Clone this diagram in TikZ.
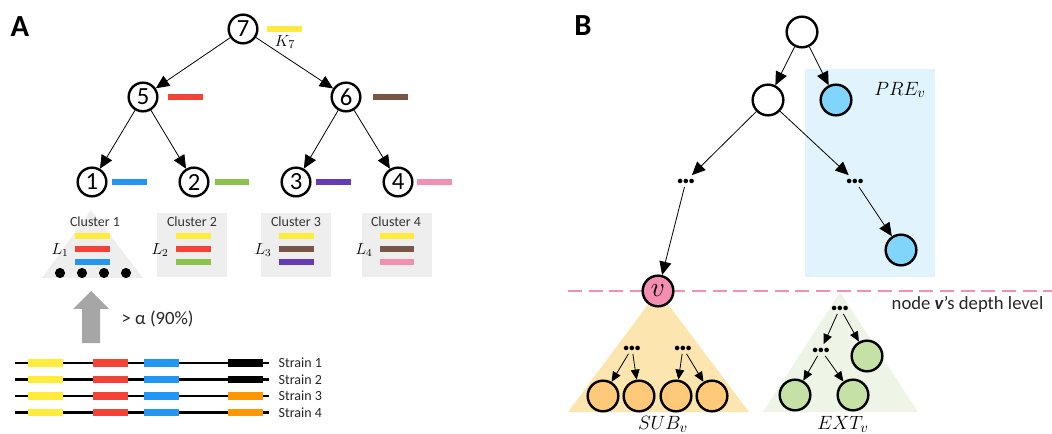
\documentclass[tikz,border=0pt]{standalone}
\usepackage{fontspec}
\setmainfont{Carlito}
\usetikzlibrary{arrows.meta}
\definecolor{cyel}{HTML}{FFEB3B}
\definecolor{cred}{HTML}{F44336}
\definecolor{cbrown}{HTML}{795548}
\definecolor{cblue}{HTML}{2196F3}
\definecolor{cgreen}{HTML}{8BC34A}
\definecolor{cpurple}{HTML}{673AB7}
\definecolor{cpink}{HTML}{F48FB1}
\definecolor{corange}{HTML}{FF9800}
\definecolor{cbox}{HTML}{EEEEEE}
\definecolor{carrow}{HTML}{A6A6A6}
\definecolor{cprebg}{HTML}{E1F4FD}
\definecolor{cprenode}{HTML}{81D4FA}
\definecolor{csubbg}{HTML}{FDE5B0}
\definecolor{csubnode}{HTML}{FFC97A}
\definecolor{cextbg}{HTML}{EFF5E6}
\definecolor{cextnode}{HTML}{C5E1A5}
\newcommand{\mydots}{.\kern-1.8pt.\kern-1.8pt.}
\begin{document}
\begin{tikzpicture}[x=0.75pt,y=-0.75pt,
  tn/.style={circle, draw, line width=1.8pt, minimum size=21.5pt, inner sep=0pt,
    font=\fontsize{18.5}{18}\selectfont, fill=white},
  bn/.style={circle, draw, line width=1.8pt, minimum size=23pt, inner sep=0pt, fill=white},
  arr/.style={-{Triangle[length=10pt,width=9pt]}, line width=0.6pt},
  sarr/.style={-{Triangle[length=7.5pt,width=6.5pt]}, line width=0.6pt},
  bar/.style={line width=4.5pt},
  cbar/.style={line width=3.8pt},
  seg/.style={line width=5.5pt},
  strand/.style={line width=2.2pt},
  dots/.style={inner sep=2.5pt, font=\fontsize{23}{23}\selectfont\bfseries},
  clab/.style={font=\fontsize{10.5}{12}\selectfont, text=black!80},
  slab/.style={font=\fontsize{10.5}{12}\selectfont, anchor=west, text=black!85},
  mlab/.style={font=\fontsize{14}{16}\selectfont},
  panel/.style={font=\fontsize{23}{24}\selectfont\bfseries}
]
\useasboundingbox (0,0) rectangle (1052,434);

% ---------------- Panel A ----------------
\node[panel] (labA) at (20,27) {A};

\node[tn] (n7) at (243,29) {7};
\node[tn] (n5) at (143,97) {5};
\node[tn] (n6) at (346,97) {6};
\node[tn] (n1) at (92,182) {1};
\node[tn] (n2) at (194,182) {2};
\node[tn] (n3) at (296,182) {3};
\node[tn] (n4) at (398,182) {4};

\draw[arr] (n7) -- (n5);
\draw[arr] (n7) -- (n6);
\draw[arr] (n5) -- (n1);
\draw[arr] (n5) -- (n2);
\draw[arr] (n6) -- (n3);
\draw[arr] (n6) -- (n4);

\draw[bar, cyel] (267,29) -- (302,29);
\node[font=\fontsize{13}{14}\selectfont] (k7) at (285,42) {$K_7$};
\draw[bar, cred] (168,97) -- (203,97);
\draw[bar, cbrown] (373,97) -- (408,97);
\draw[bar, cblue] (112,182) -- (147,182);
\draw[bar, cgreen] (215,182) -- (249,182);
\draw[bar, cpurple] (316,182) -- (351,182);
\draw[bar, cpink] (417,182) -- (452,182);

% clusters
\fill[cbox] (91,210) -- (42,278) -- (143,278) -- cycle;
\fill[cbox] (157,213) rectangle (227,277);
\fill[cbox] (261,213) rectangle (331,277);
\fill[cbox] (362,213) rectangle (432,277);

\node[clab] (cl1) at (95,222) {Cluster 1};
\node[clab] (cl2) at (192,222) {Cluster 2};
\node[clab] (cl3) at (296,222) {Cluster 3};
\node[clab] (cl4) at (396,222) {Cluster 4};

\node[font=\fontsize{12}{12}\selectfont] (L1) at (60,250) {$L_1$};
\node[font=\fontsize{12}{12}\selectfont] (L2) at (160,250) {$L_2$};
\node[font=\fontsize{12}{12}\selectfont] (L3) at (263,250) {$L_3$};
\node[font=\fontsize{12}{12}\selectfont] (L4) at (364,250) {$L_4$};

\draw[cbar, cyel] (75,236) -- (110,236);
\draw[cbar, cred] (75,249) -- (110,249);
\draw[cbar, cblue] (75,262) -- (110,262);
\draw[cbar, cyel] (176,236) -- (211,236);
\draw[cbar, cred] (176,249) -- (211,249);
\draw[cbar, cgreen] (176,262) -- (211,262);
\draw[cbar, cyel] (279,236) -- (314,236);
\draw[cbar, cbrown] (279,249) -- (314,249);
\draw[cbar, cpurple] (279,262) -- (314,262);
\draw[cbar, cyel] (380,236) -- (414,236);
\draw[cbar, cbrown] (380,249) -- (414,249);
\draw[cbar, cpink] (380,262) -- (414,262);

\foreach \x in {60,82,104,126} \fill[black] (\x,273) circle (3.8pt);

% big gray arrow
\fill[carrow] (82,343) -- (100,343) -- (100,309) -- (109,309) -- (91,291) -- (73,309) -- (82,309) -- cycle;
\node[mlab, anchor=west, text=black!85] (alpha) at (117,319) {> α (90\%)};

% strains
\foreach \y/\c [count=\i] in {363/black,379.5/black,396/corange,412.5/corange}{
  \draw[strand] (15,\y) -- (269,\y);
  \draw[seg, cyel] (28,\y) -- (63,\y);
  \draw[seg, cred] (93,\y) -- (128,\y);
  \draw[seg, cblue] (144,\y) -- (179,\y);
  \draw[seg, \c] (228,\y) -- (263,\y);
  \node[slab] at (274,\y) {Strain \i};
}

% ---------------- Panel B ----------------
\node[panel] (labB) at (583,26) {B};

\fill[cprebg] (805,69) rectangle (935,277);
\node[font=\fontsize{15}{16}\selectfont] (pre) at (900,90) {$PRE_v$};

% subtree backgrounds
\fill[csubbg] (658,291) -- (568,412) -- (749,412) -- cycle;
\fill[cextbg] (840,292) -- (763,412) -- (918,412) -- cycle;

% depth line
\draw[cpink, line width=2.2pt, dash pattern=on 10.5pt off 5pt] (568,291) -- (1052,291);
\node[mlab, anchor=east, text=black!85] (depth) at (1048,304) {node \textbf{\textit{v}}’s depth level};

\node[bn] (r) at (802,32) {};
\node[bn] (a) at (768,100) {};
\node[bn, fill=cprenode] (b) at (836,100) {};
\node[dots] (d1) at (686,181) {\mydots};
\node[dots] (d2) at (855,181) {\mydots};
\node[bn, fill=cprenode] (b2) at (901,250) {};
\node[bn, fill=cpink, font=\fontsize{20}{20}\selectfont] (v) at (658,291) {$v$};

\draw[arr] (r) -- (a);
\draw[arr] (r) -- (b);
\draw[arr] (a) -- (d1);
\draw[arr] (a) -- (d2);
\draw[arr] (d1) -- (v);
\draw[arr] (d2) -- (b2);

% SUB_v
\node[dots] (s1) at (632,348) {\mydots};
\node[dots] (s2) at (683,348) {\mydots};
\node[bn, fill=csubnode] (o1) at (603,396) {};
\node[bn, fill=csubnode] (o2) at (639,396) {};
\node[bn, fill=csubnode] (o3) at (676,396) {};
\node[bn, fill=csubnode] (o4) at (712,396) {};
\draw[sarr] (s1) -- (o1);
\draw[sarr] (s1) -- (o2);
\draw[sarr] (s2) -- (o3);
\draw[sarr] (s2) -- (o4);
\node[font=\fontsize{15}{16}\selectfont] (sub) at (663,424) {$SUB_v$};

% EXT_v
\node[dots] (e1) at (840,308) {\mydots};
\node[dots] (e2) at (821,350) {\mydots};
\node[bn, fill=cextnode] (g1) at (867,356) {};
\node[bn, fill=cextnode] (g2) at (795,395) {};
\node[bn, fill=cextnode] (g3) at (853,395) {};
\draw[sarr] (e1) -- (e2);
\draw[sarr] (e1) -- (g1);
\draw[sarr] (e2) -- (g2);
\draw[sarr] (e2) -- (g3);
\node[font=\fontsize{15}{16}\selectfont] (ext) at (843,424) {$EXT_v$};
\end{tikzpicture}
\end{document}
